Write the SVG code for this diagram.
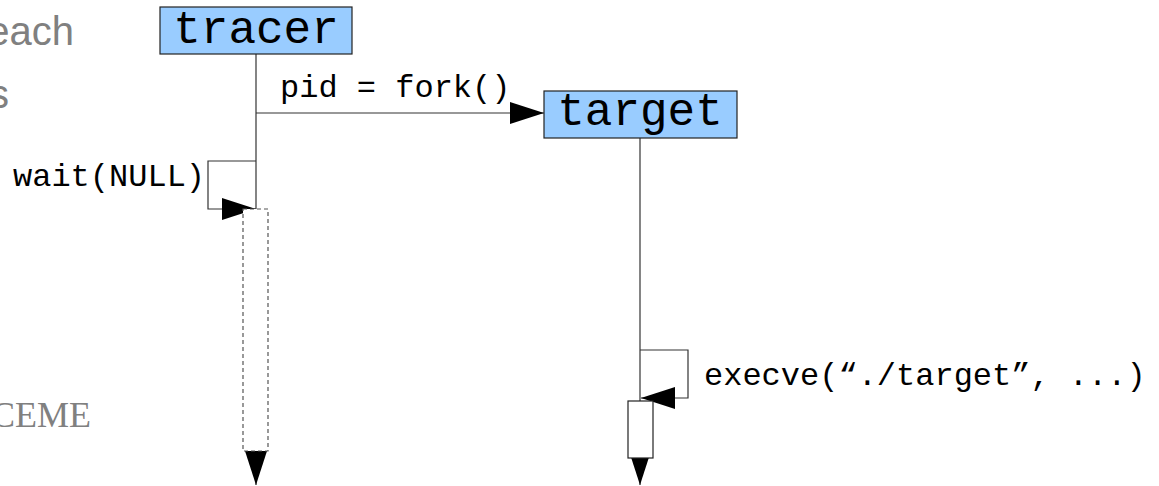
<svg xmlns="http://www.w3.org/2000/svg" width="1159" height="486" viewBox="0 0 1159 486">
<style>
.bg{font-family:"Liberation Sans",Arial,sans-serif;fill:#808080}
.bgs{font-family:"Liberation Serif","Times New Roman",serif;fill:#808080}
.mono{font-family:"Liberation Mono","Courier New",monospace;fill:#000}
.title{font-size:46px}
.lbl{font-size:32px}
.box{fill:#99ccff;stroke:#222;stroke-width:1.2}
.ln{fill:none;stroke:#333;stroke-width:1.2}
.dash{fill:#fff;stroke:#555;stroke-width:1.2;stroke-dasharray:4 3}
.act{fill:#fff;stroke:#222;stroke-width:1.2}
</style>
<defs>
<marker id="ah" markerUnits="userSpaceOnUse" markerWidth="36" markerHeight="24" refX="34" refY="11" orient="auto" viewBox="0 0 36 24">
<path d="M0,0 L34,11 L0,22 z" fill="#000"/>
</marker>
</defs>
<rect width="1159" height="486" fill="#fff"/>
<g id="background-text">
<text class="bg" x="74" y="45" font-size="40" text-anchor="end">each</text>
<text class="bg" x="9" y="108" font-size="40" text-anchor="end">s</text>
<text class="bgs" x="-9" y="427" font-size="36">CEME</text>
</g>
<g id="connectors">
<line class="ln" x1="256" y1="54" x2="256" y2="209"/>
<line class="ln" x1="256" y1="113" x2="544" y2="113" marker-end="url(#ah)"/>
<path class="ln" d="M256,161 H208 V209 H256" marker-end="url(#ah)"/>
<line class="ln" x1="640" y1="138" x2="640" y2="401"/>
<path class="ln" d="M640,350 H688 V398 H641" marker-end="url(#ah)"/>
<line class="ln" x1="256" y1="451" x2="256" y2="485" marker-end="url(#ah)"/>
<line class="ln" x1="640" y1="458" x2="640" y2="485" marker-end="url(#ah)"/>
</g>
<g id="tracer">
<rect class="box" x="160" y="7" width="192" height="47"/>
<text class="mono title" x="256" y="43" text-anchor="middle">tracer</text>
</g>
<g id="target">
<rect class="box" x="544" y="91" width="193" height="47"/>
<text class="mono title" x="640" y="125" text-anchor="middle">target</text>
</g>
<g id="tracer-activation">
<rect class="dash" x="243" y="209" width="25" height="242"/>
</g>
<g id="target-activation">
<rect class="act" x="628" y="401" width="25" height="57"/>
</g>
<g id="labels">
<text class="mono lbl" x="280" y="97">pid = fork()</text>
<text class="mono lbl" x="13" y="186">wait(NULL)</text>
<text class="mono lbl" x="704" y="385">execve(“./target”, ...)</text>
</g>
</svg>
